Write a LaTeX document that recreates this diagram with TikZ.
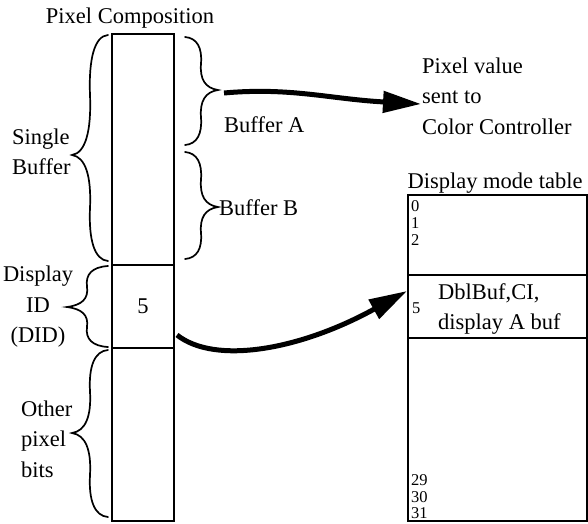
\documentclass[tikz,border=0pt]{standalone}
\usepackage{fontspec}
\setmainfont{Liberation Serif}
\usetikzlibrary{arrows.meta}

% tall curly brace: ends at x=#1, spine at x=#2, tip at x=#3; top y=#4, tip y=#5, bottom y=#6
\newcommand\tallbrace[6]{%
  \draw[bracestroke] (#1,#4)
    .. controls ({#2+0.25*(#1-#2)},{#4+1}) and ({#2-0.08*(#1-#2)},{#4+0.2*(#5-#4)}) .. ({#2},{#4+0.5*(#5-#4)})
    .. controls ({#2+0.08*(#1-#2)},{#5-0.2*(#5-#4)}) and ({#2-0.25*(#2-#3)},{#5-2}) .. (#3,#5)
    .. controls ({#2-0.25*(#2-#3)},{#5+2}) and ({#2+0.08*(#1-#2)},{#5+0.2*(#6-#5)}) .. ({#2},{#5+0.5*(#6-#5)})
    .. controls ({#2-0.08*(#1-#2)},{#6-0.2*(#6-#5)}) and ({#2+0.25*(#1-#2)},{#6-1}) .. (#1,#6);}

\tikzset{
  lbl/.style={font=\fontsize{22.5}{30.5}\selectfont, inner sep=0pt},
  small/.style={font=\fontsize{16.5}{17}\selectfont, inner sep=0pt, anchor=west},
  seg/.style={draw, line width=2pt, minimum width=62pt, inner sep=0pt,
              font=\fontsize{22.5}{30}\selectfont},
  row/.style={draw, line width=2pt, minimum width=179pt, inner sep=0pt},
  bracestroke/.style={line width=1.7pt, line cap=round},
  fatarrow/.style={line width=5pt, -{Triangle[length=38pt,width=21pt]}},
}

\begin{document}
\begin{tikzpicture}[x=1pt, y=-1pt]
\useasboundingbox (0,0) rectangle (588,523);

% pixel word
\node[lbl] (title) at (130,18) {Pixel Composition};
\node[seg, minimum height=231pt] (bufseg) at (143,149.5) {};
\node[seg, minimum height=83pt] (did) at (143,306.5) {\raisebox{-4pt}{5}};
\node[seg, minimum height=173pt] (other) at (143,434.5) {};

% braces and their labels
\tallbrace{108}{90}{72}{35}{155}{261}
\node[lbl, align=left, anchor=west] (single) at (12,152) {Single\\Buffer};
\tallbrace{185}{201}{218}{37}{90}{145}
\node[lbl, anchor=west] (bufA) at (224,125) {Buffer A};
\tallbrace{185}{201}{218}{152}{207}{259}
\node[lbl, anchor=west] (bufB) at (219,208) {Buffer B};
\tallbrace{108}{87}{67}{266}{307}{347}
\node[lbl, align=center] (didlbl) at (38,307) {Display\\ID\\(DID)};
\tallbrace{108}{90}{72}{350}{433}{517}
\node[lbl, align=left, anchor=west] (otherlbl) at (21,439) {Other\\pixel\\bits};

% destination of the pixel value
\node[lbl, align=left, anchor=west] (cc) at (422,96) {Pixel value\\sent to\\Color Controller};

% display mode table
\node[lbl] (dmt) at (495,183) {Display mode table};
\node[row, minimum height=80pt] (rowtop) at (497.5,235) {};
\node[row, minimum height=63pt] (rowfive) at (497.5,306.5) {};
\node[row, minimum height=183pt] (rowrest) at (497.5,429.5) {};
\node[small] (e0) at (411,206) {0};
\node[small] (e1) at (411,223) {1};
\node[small] (e2) at (411,240) {2};
\node[small] (e5) at (412,308) {5};
\node[lbl, align=left, anchor=west] (mode5) at (438,309) {DblBuf,CI,\\display A buf};
\node[small] (e29) at (411,480) {29};
\node[small] (e30) at (411,497) {30};
\node[small] (e31) at (411,513) {31};

% connectors
\coordinate (aStart) at (224,93);
\coordinate (aEnd) at (421,104);
\draw[fatarrow] (aStart) .. controls (290,87) and (330,99) .. (aEnd);
\coordinate (dStart) at (177,335);
\coordinate (dEnd) at (407,291);
\draw[fatarrow] (dStart) .. controls (215,365) and (300,350) .. (dEnd);
\end{tikzpicture}
\end{document}
